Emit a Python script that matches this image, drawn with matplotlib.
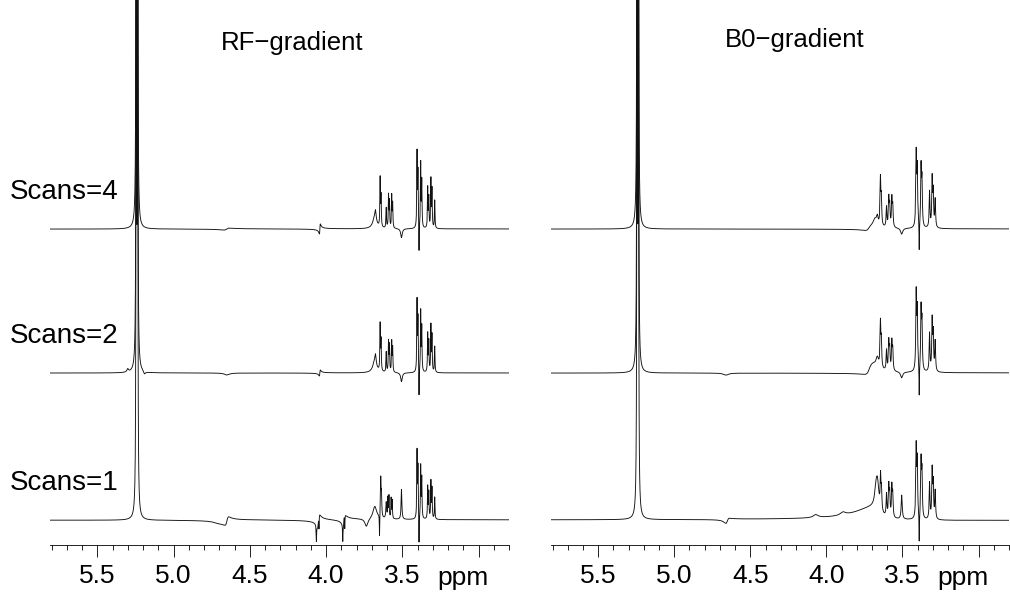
import numpy as np
import matplotlib.pyplot as plt
import matplotlib.transforms as mtransforms
from matplotlib.ticker import MultipleLocator

plt.rcParams['font.family'] = ['Liberation Sans', 'DejaVu Sans']

# peak tables: (ppm, height, half width)
# heights in pixel-ish units, 147 units between stacked traces
rf_scans1 = [(5.244, 1200, 0.0015), (5.236, 1200, 0.0015), (4.70, -2, 0.04),
             (4.063, -16, 0.0015), (4.046, -15, 0.0015),
             (3.89, -16, 0.0015), (3.877, -15, 0.0015),
             (3.735, -8, 0.012), (3.68, 13, 0.015),
             (3.641, 40, 0.003), (3.649, -24, 0.0015), (3.636, 18, 0.002),
             (3.605, 16, 0.003), (3.594, 20, 0.002), (3.587, 22, 0.002),
             (3.573, 20, 0.002), (3.566, 18, 0.002),
             (3.505, 30, 0.003),
             (3.403, 66, 0.002), (3.397, 50, 0.002), (3.39, -30, 0.0012),
             (3.379, 52, 0.002), (3.372, 40, 0.002),
             (3.333, 32, 0.002), (3.326, 26, 0.002), (3.312, 37, 0.002),
             (3.305, 30, 0.002), (3.287, 22, 0.002)]
rf_scans1_disp = [(4.65, -4, 0.012), (4.05, -7, 0.006), (3.883, -6, 0.006)]

rf_scans2 = [(5.244, 1200, 0.0015), (5.236, 1200, 0.0015), (5.30, 3, 0.006),
             (5.19, -3, 0.008), (4.65, -2, 0.02),
             (3.68, 12, 0.015), (3.675, 8, 0.004),
             (3.645, 46, 0.002), (3.639, 30, 0.002),
             (3.605, 20, 0.002), (3.59, 30, 0.002), (3.584, 26, 0.002),
             (3.569, 30, 0.002), (3.563, 24, 0.002), (3.505, -9, 0.006),
             (3.403, 70, 0.002), (3.397, 52, 0.002), (3.39, -30, 0.0012),
             (3.379, 60, 0.002), (3.372, 44, 0.002),
             (3.333, 38, 0.002), (3.326, 30, 0.002), (3.312, 46, 0.002),
             (3.305, 36, 0.002), (3.287, 26, 0.002)]
rf_scans2_disp = [(4.04, -3, 0.003)]

rf_scans4 = [(5.244, 1200, 0.0015), (5.236, 1200, 0.0015),
             (3.68, 12, 0.015), (3.675, 8, 0.004),
             (3.645, 48, 0.002), (3.639, 30, 0.002),
             (3.605, 20, 0.002), (3.59, 32, 0.002), (3.584, 26, 0.002),
             (3.569, 32, 0.002), (3.563, 24, 0.002), (3.505, -9, 0.006),
             (3.403, 74, 0.002), (3.397, 54, 0.002), (3.39, -30, 0.0012),
             (3.379, 64, 0.002), (3.372, 46, 0.002),
             (3.333, 40, 0.002), (3.326, 30, 0.002), (3.312, 48, 0.002),
             (3.305, 38, 0.002), (3.287, 28, 0.002)]
rf_scans4_disp = [(4.04, -5, 0.003), (4.65, -1, 0.02)]

b0_scans1 = [(5.244, 1200, 0.0015), (5.236, 1200, 0.0015), (4.66, -2, 0.02),
             (3.70, 8, 0.15), (4.07, 3, 0.02), (3.89, 3, 0.02),
             (3.665, 28, 0.012), (3.675, 12, 0.01),
             (3.644, 32, 0.003), (3.638, 20, 0.003),
             (3.605, 22, 0.003), (3.59, 30, 0.003), (3.584, 22, 0.003),
             (3.57, 30, 0.003), (3.564, 22, 0.003), (3.505, 24, 0.004),
             (3.41, 70, 0.003), (3.403, 55, 0.003), (3.39, -30, 0.0015),
             (3.378, 56, 0.003), (3.372, 44, 0.003),
             (3.322, 36, 0.003), (3.305, 48, 0.003), (3.298, 34, 0.003),
             (3.285, 28, 0.003)]
b0_scans1_disp = [(3.66, 4, 0.06), (4.65, -2, 0.01)]

b0_scans2 = [(5.244, 1200, 0.0015), (5.236, 1200, 0.0015), (4.66, -2, 0.02),
             (3.69, 6, 0.03), (3.665, 10, 0.01),
             (3.645, 44, 0.003), (3.639, 26, 0.003),
             (3.605, 20, 0.003), (3.59, 28, 0.003), (3.584, 20, 0.003),
             (3.57, 28, 0.003), (3.564, 20, 0.003), (3.505, -6, 0.008),
             (3.41, 76, 0.003), (3.403, 58, 0.003), (3.39, -32, 0.0015),
             (3.378, 60, 0.003), (3.372, 46, 0.003),
             (3.322, 38, 0.003), (3.305, 50, 0.003), (3.298, 36, 0.003),
             (3.285, 30, 0.003)]
b0_scans2_disp = [(3.72, -3, 0.02)]

b0_scans4 = [(5.244, 1200, 0.0015), (5.236, 1200, 0.0015),
             (3.68, 8, 0.015), (3.665, 8, 0.006),
             (3.645, 46, 0.003), (3.639, 26, 0.003),
             (3.605, 20, 0.003), (3.59, 28, 0.003), (3.584, 20, 0.003),
             (3.57, 28, 0.003), (3.564, 20, 0.003), (3.505, -6, 0.008),
             (3.41, 72, 0.003), (3.403, 56, 0.003), (3.39, -30, 0.0015),
             (3.378, 58, 0.003), (3.372, 44, 0.003),
             (3.322, 36, 0.003), (3.305, 48, 0.003), (3.298, 34, 0.003),
             (3.285, 28, 0.003)]
b0_scans4_disp = [(3.72, -2, 0.02)]

scan_labels = ['Scans=1', 'Scans=2', 'Scans=4']
offsets = [0, 147, 291]
panel_titles = ['RF\u2212gradient', 'B0\u2212gradient']
tick_pos = [5.5, 5.0, 4.5, 4.0, 3.5, 3.0]
tick_labels = ['5.5', '5.0', '4.5', '4.0', '3.5', '']


def spectrum(ppm, peaks, disp):
    y = np.zeros_like(ppm)
    for x0, h, w in peaks:
        y += h * w**2 / ((ppm - x0)**2 + w**2)
    for x0, a, w in disp:
        d = ppm - x0
        y += a * 2 * w * d / (d**2 + w**2)
    return y


ppm = np.arange(2.80, 5.81, 0.0002)

fig = plt.figure(figsize=(10.1, 5.93), dpi=100)
ax1 = fig.add_axes([50/1010, 48/593, 459/1010, 545/593])
ax2 = fig.add_axes([551/1010, 48/593, 458/1010, 545/593])

panels = [(ax1, [(rf_scans1, rf_scans1_disp), (rf_scans2, rf_scans2_disp), (rf_scans4, rf_scans4_disp)]),
          (ax2, [(b0_scans1, b0_scans1_disp), (b0_scans2, b0_scans2_disp), (b0_scans4, b0_scans4_disp)])]

for ax, traces in panels:
    for (pk, dp), off in zip(traces, offsets):
        ax.plot(ppm, spectrum(ppm, pk, dp) + off, color='#111111', lw=0.65)
    ax.set_xlim(5.81, 2.80)
    ax.set_ylim(-25, 520)
    for s in ['top', 'left', 'right']:
        ax.spines[s].set_visible(False)
    ax.spines['bottom'].set_linewidth(0.6)
    ax.set_yticks([])
    ax.set_xticks(tick_pos)
    ax.set_xticklabels(tick_labels, fontsize=19)
    ax.xaxis.set_minor_locator(MultipleLocator(0.1))
    ax.tick_params(axis='x', which='major', length=8.6, width=0.6, pad=5)
    ax.tick_params(axis='x', which='minor', length=3.6, width=0.6)
    ax.patch.set_alpha(0)
    trans = mtransforms.blended_transform_factory(ax.transData, ax.transAxes)
    ax.text(3.1, -0.06, 'ppm', transform=trans, fontsize=19, ha='center', va='center')

trans = mtransforms.blended_transform_factory(fig.transFigure, ax1.transData)
for lab, off in zip(scan_labels, offsets):
    fig.text(10/1010, off + 37, lab, transform=trans, fontsize=20, ha='left', va='center')

fig.text(292/1010, 1 - 43/593, panel_titles[0], fontsize=18.5, ha='center', va='center')
fig.text(795/1010, 1 - 40/593, panel_titles[1], fontsize=18.5, ha='center', va='center')

fig.savefig('out.png', dpi=100)
